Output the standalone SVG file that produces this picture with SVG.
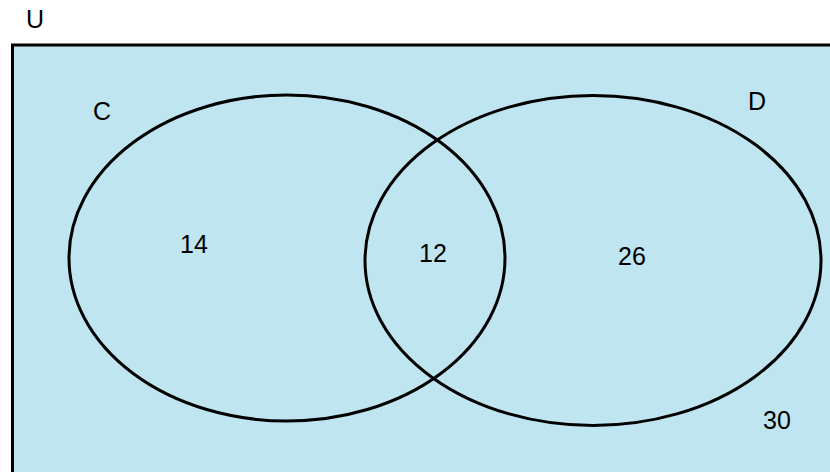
<svg xmlns="http://www.w3.org/2000/svg" width="830" height="472" viewBox="0 0 830 472">
<style>
.t{font-family:"Liberation Sans",Arial,sans-serif;font-size:25px;fill:#000;text-anchor:middle}
.set{fill:none;stroke:#000;stroke-width:3}
</style>
<rect x="0" y="0" width="830" height="472" fill="#fff"/>
<g id="universe">
<rect x="12.5" y="45" width="830" height="440" fill="#bfe6f0" stroke="#000" stroke-width="3"/>
<text class="t" x="35" y="28">U</text>
</g>
<g id="setC">
<ellipse class="set" cx="287" cy="258" rx="218" ry="163"/>
<text class="t" x="102" y="120">C</text>
</g>
<g id="setD">
<ellipse class="set" cx="593" cy="260.5" rx="228" ry="165"/>
<text class="t" x="757" y="110">D</text>
</g>
<g id="labels">
<text class="t" x="194" y="253">14</text>
<text class="t" x="433" y="262">12</text>
<text class="t" x="632" y="264.5">26</text>
<text class="t" x="777" y="429">30</text>
</g>
</svg>
